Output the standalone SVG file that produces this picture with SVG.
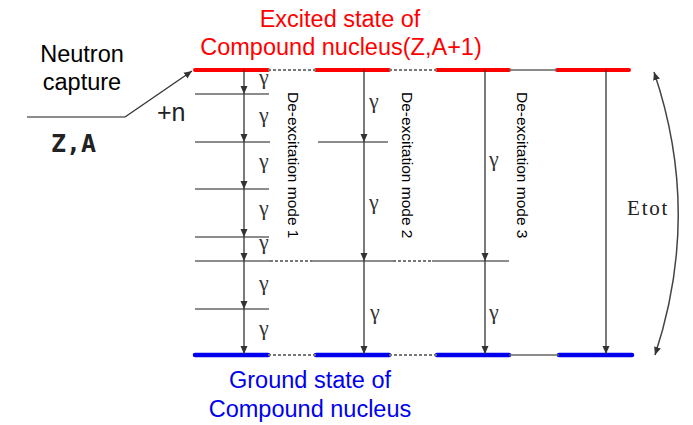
<svg xmlns="http://www.w3.org/2000/svg" width="693" height="425" viewBox="0 0 693 425">
<defs>
<marker id="ah" markerWidth="8" markerHeight="8" viewBox="0 0 8 8" refX="8" refY="4" orient="auto" markerUnits="userSpaceOnUse">
<path d="M0,0.5 L8,4 L0,7.5 Z" fill="#333"/>
</marker>
<marker id="ahs" markerWidth="8" markerHeight="8" viewBox="0 0 8 8" refX="8" refY="4" orient="auto-start-reverse" markerUnits="userSpaceOnUse">
<path d="M0,0.5 L8,4 L0,7.5 Z" fill="#333"/>
</marker>
<style>
.red{stroke:#ff0000;stroke-width:4;stroke-linecap:round;fill:none}
.blue{stroke:#0000ee;stroke-width:4.5;stroke-linecap:round;fill:none}
.dash{stroke:#777;stroke-width:2;stroke-dasharray:3 2;fill:none}
.lvl{stroke:#666;stroke-width:1.6;fill:none}
.arr{stroke:#333;stroke-width:1.3;fill:none;marker-end:url(#ah)}
.g{font-family:"Liberation Serif","DejaVu Serif",serif;font-size:22px;fill:#333}
.lab{font-family:"Liberation Sans",Arial,sans-serif;font-size:15.5px;fill:#000}
.big{font-family:"Liberation Sans",Arial,sans-serif;font-size:23.5px;text-anchor:middle}
</style>
</defs>

<g id="excited-state">
<line class="red" x1="195" y1="70" x2="268" y2="70"/>
<line class="red" x1="316" y1="70" x2="389" y2="70"/>
<line class="red" x1="437" y1="70" x2="509" y2="70"/>
<line class="red" x1="557" y1="70" x2="629" y2="70"/>
<line class="dash" x1="268" y1="70" x2="316" y2="70"/>
<line class="dash" x1="389" y1="70" x2="437" y2="70"/>
<line class="lvl" x1="509" y1="70" x2="557" y2="70"/>
<text class="big" x="340" y="27" fill="#ff0000">Excited state of</text>
<text class="big" x="341" y="55" fill="#ff0000">Compound nucleus(Z,A+1)</text>
</g>

<g id="ground-state">
<line class="blue" x1="195" y1="355" x2="268" y2="355"/>
<line class="blue" x1="316" y1="355" x2="389" y2="355"/>
<line class="blue" x1="437" y1="355" x2="509" y2="355"/>
<line class="blue" x1="559" y1="355" x2="632" y2="355"/>
<line class="dash" x1="268" y1="355" x2="316" y2="355"/>
<line class="dash" x1="389" y1="355" x2="437" y2="355"/>
<line class="lvl" x1="509" y1="355" x2="559" y2="355"/>
<text class="big" x="310" y="388" fill="#0000ee">Ground state of</text>
<text class="big" x="310" y="417" fill="#0000ee">Compound nucleus</text>
</g>

<g id="initial-nucleus">
<line class="lvl" x1="27" y1="117" x2="125" y2="117" stroke="#444"/>
<text x="51" y="152" font-family="'DejaVu Sans Mono',monospace" font-size="25" font-weight="bold" fill="#222">Z,A</text>
<text x="82" y="62" class="big" fill="#000">Neutron</text>
<text x="82" y="90" class="big" fill="#000">capture</text>
<text x="157" y="121" font-family="'Liberation Sans',Arial,sans-serif" font-size="25" fill="#222">+n</text>
</g>

<g id="intermediate-levels">
<line class="lvl" x1="195" y1="94" x2="269" y2="94"/>
<line class="lvl" x1="195" y1="142" x2="270" y2="142"/>
<line class="lvl" x1="195" y1="189" x2="269" y2="189"/>
<line class="lvl" x1="195" y1="237" x2="269" y2="237"/>
<line class="lvl" x1="195" y1="309" x2="269" y2="309"/>
<line class="lvl" x1="318" y1="142" x2="388" y2="142"/>
<line class="lvl" x1="195" y1="261" x2="270" y2="261"/>
<line class="dash" x1="270" y1="261" x2="312" y2="261"/>
<line class="lvl" x1="312" y1="261" x2="393" y2="261"/>
<line class="dash" x1="393" y1="261" x2="432" y2="261"/>
<line class="lvl" x1="432" y1="261" x2="509" y2="261"/>
</g>

<g id="mode-1">
<text class="lab" transform="translate(288,92) rotate(90)">De-excitation mode 1</text>
<text class="g" x="259" y="84">γ</text>
<text class="g" x="259" y="122">γ</text>
<text class="g" x="259" y="168">γ</text>
<text class="g" x="259" y="215">γ</text>
<text class="g" x="259" y="249">γ</text>
<text class="g" x="259" y="290">γ</text>
<text class="g" x="259" y="335">γ</text>
</g>

<g id="mode-2">
<text class="lab" transform="translate(402,92) rotate(90)">De-excitation mode 2</text>
<text class="g" x="369" y="108">γ</text>
<text class="g" x="369" y="209">γ</text>
<text class="g" x="370" y="319">γ</text>
</g>

<g id="mode-3">
<text class="lab" transform="translate(517,92) rotate(90)">De-excitation mode 3</text>
<text class="g" x="489" y="166">γ</text>
<text class="g" x="489" y="319">γ</text>
</g>

<g id="etot">
<text x="627" y="215" font-family="'Liberation Serif','Times New Roman',serif" font-size="21" letter-spacing="1.8" fill="#222">Etot</text>
</g>

<g id="connectors">
<line class="arr" x1="125" y1="117" x2="192" y2="71"/>
<line class="arr" x1="244" y1="70" x2="244" y2="94"/>
<line class="arr" x1="244" y1="94" x2="244" y2="142"/>
<line class="arr" x1="244" y1="142" x2="244" y2="189"/>
<line class="arr" x1="244" y1="189" x2="244" y2="237"/>
<line class="arr" x1="244" y1="237" x2="244" y2="261"/>
<line class="arr" x1="244" y1="261" x2="244" y2="309"/>
<line class="arr" x1="244" y1="309" x2="244" y2="354"/>
<line class="arr" x1="364" y1="70" x2="364" y2="142"/>
<line class="arr" x1="364" y1="142" x2="364" y2="261"/>
<line class="arr" x1="364" y1="261" x2="364" y2="354"/>
<line class="arr" x1="485" y1="70" x2="485" y2="261"/>
<line class="arr" x1="485" y1="261" x2="485" y2="354"/>
<line class="arr" x1="606" y1="70" x2="606" y2="354"/>
<path d="M654,72 Q702,213 655,355" fill="none" stroke="#444" stroke-width="1.5" marker-start="url(#ahs)" marker-end="url(#ah)"/>
</g>
</svg>
